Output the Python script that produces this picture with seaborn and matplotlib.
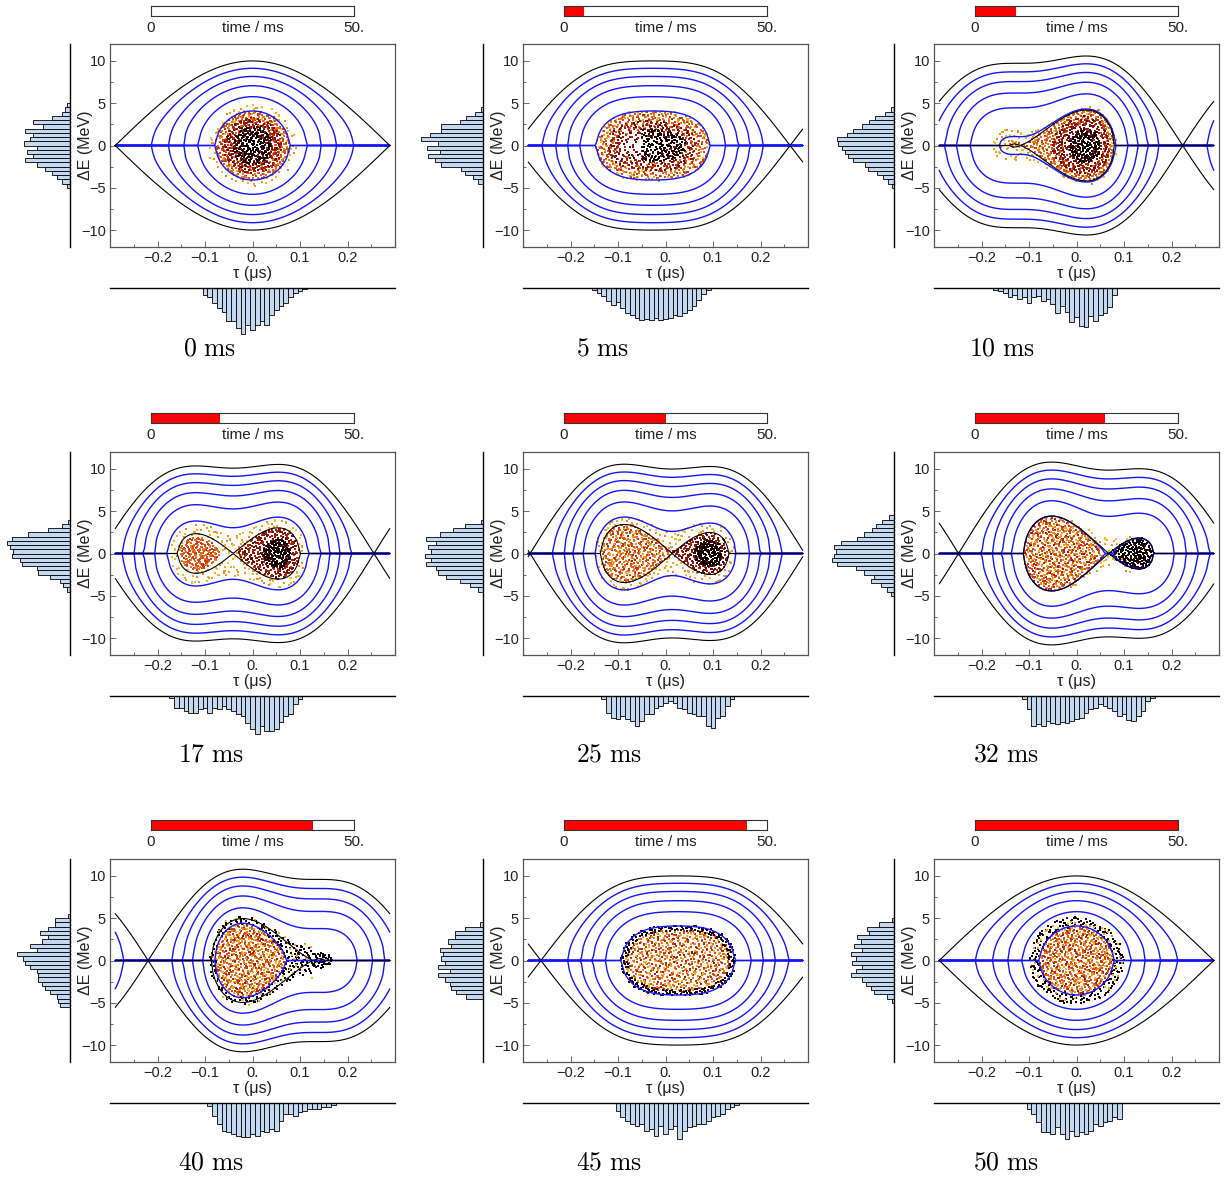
import numpy as np
import pandas as pd
import matplotlib
matplotlib.use("Agg")
import matplotlib.pyplot as plt
import seaborn as sns
from matplotlib.colors import LinearSegmentedColormap

sns.set_theme(style="white")
plt.rcParams["font.family"] = ["Liberation Sans", "DejaVu Sans"]
plt.rcParams["mathtext.fontset"] = "cm"

# ------------------------------------------------------------------ data
snapshot_ms = [0, 5, 10, 17, 25, 32, 40, 45, 50]
cycle_ms = 50

# RF potential well U(tau) = c1(1-cos x) + s1 sin x + c2(1-cos 2x) + s2 sin 2x,
# with x = 2*pi*tau/T_RF (MeV^2, so that dE^2/2 + U is conserved)
T_RF = 0.578
pot_c1 = [25.0, 23.96, 20.8, 24.07, 25.0, 23.70, 20.99, 23.96, 25.0]
pot_s1 = [0.0, 7.15, 13.32, 8.35, 0.0, -7.74, -13.11, -7.15, 0.0]
pot_c2 = [0.0, -4.39, 0.30, -7.83, -11.10, -6.06, 1.74, -4.39, 0.0]
pot_s2 = [0.0, -2.88, -9.84, -7.415, 1.51, 9.85, 10.45, 2.88, 0.0]

# bunch profiles in tau (bin width 0.01 us): centre of the first bin and counts
tau_bin = 0.01
tau_first_centre = [-0.10, -0.15, -0.17, -0.17, -0.13, -0.11, -0.09, -0.10, -0.10]
tau_counts_00 = [7, 9, 15, 20, 24, 33, 33, 40, 46, 37, 42, 37, 33, 37, 27, 22, 18, 15, 9, 5, 3, 1]
tau_counts_05 = [2, 5, 8, 13, 17, 14, 20, 25, 27, 30, 32, 31, 32, 30, 32, 31, 30, 27, 28, 25, 22, 18, 12, 6, 2]
tau_counts_10 = [2, 3, 5, 9, 7, 11, 9, 15, 9, 8, 13, 11, 16, 25, 18, 24, 34, 29, 38, 39, 28, 33, 27, 25, 19, 7]
tau_counts_17 = [2, 12, 12, 15, 17, 17, 13, 12, 17, 12, 13, 10, 13, 15, 18, 20, 27, 33, 38, 30, 35, 35, 33, 26, 20, 18, 8, 3]
tau_counts_25 = [3, 17, 22, 23, 20, 23, 25, 30, 25, 18, 18, 12, 10, 7, 5, 7, 12, 13, 17, 18, 20, 20, 30, 32, 22, 20, 10, 3]
tau_counts_32 = [3, 13, 30, 28, 30, 25, 27, 28, 26, 27, 25, 23, 22, 17, 13, 12, 8, 10, 12, 15, 20, 18, 24, 25, 20, 15, 5, 2]
tau_counts_40 = [3, 13, 21, 28, 29, 31, 33, 34, 34, 31, 33, 28, 29, 26, 28, 18, 11, 11, 13, 9, 8, 6, 6, 6, 4, 4, 2]
tau_counts_45 = [8, 14, 18, 21, 23, 21, 28, 26, 33, 23, 31, 26, 23, 36, 28, 24, 23, 21, 21, 18, 14, 13, 11, 6, 4, 2]
tau_counts_50 = [6, 11, 19, 29, 29, 31, 24, 31, 36, 28, 33, 29, 31, 28, 21, 23, 19, 18, 14, 16]
tau_counts = [tau_counts_00, tau_counts_05, tau_counts_10, tau_counts_17, tau_counts_25,
              tau_counts_32, tau_counts_40, tau_counts_45, tau_counts_50]

# energy profiles (bin width 0.5 MeV): upper edge of the top bin, counts listed top to bottom
de_bin = 0.5
de_top_edge = [5.0, 4.5, 4.5, 4.0, 4.0, 4.5, 5.5, 4.5, 5.0]
de_counts_00 = [3, 5, 8, 18, 37, 27, 45, 37, 40, 46, 33, 43, 37, 45, 33, 25, 18, 13, 8, 3]
de_counts_05 = [2, 8, 17, 23, 42, 42, 53, 62, 45, 56, 43, 55, 48, 42, 22, 18, 10, 5]
de_counts_10 = [3, 9, 19, 25, 32, 41, 47, 57, 56, 52, 49, 46, 41, 29, 26, 17, 11, 6, 2]
de_counts_17 = [2, 8, 22, 42, 58, 63, 60, 57, 58, 50, 48, 33, 32, 20, 10, 7, 3]
de_counts_25 = [2, 18, 30, 43, 57, 47, 55, 52, 58, 52, 57, 47, 45, 37, 23, 13, 5]
de_counts_32 = [5, 12, 18, 22, 30, 37, 53, 60, 58, 60, 62, 57, 38, 30, 20, 23, 13, 7, 3]
de_counts_40 = [2, 15, 15, 22, 30, 22, 28, 40, 33, 53, 47, 45, 40, 33, 32, 32, 28, 25, 20, 13, 12, 10]
de_counts_45 = [3, 18, 28, 28, 35, 32, 43, 40, 42, 38, 45, 33, 45, 38, 33, 32, 27, 17]
de_counts_50 = [2, 15, 27, 25, 37, 33, 40, 32, 43, 38, 42, 32, 38, 43, 32, 28, 23, 20, 7, 2]
de_counts = [de_counts_00, de_counts_05, de_counts_10, de_counts_17, de_counts_25,
             de_counts_32, de_counts_40, de_counts_45, de_counts_50]

# macro-particle groups: (basin, amplitude lo/hi in MeV, initial-amplitude shade lo/hi, number[, tau lo, tau hi])
groups_00 = [("all", 3.1, 4.9, .62, .82, 130), ("all", 2.0, 4.1, .38, .62, 360),
             ("all", 1.0, 3.3, .16, .36, 280), ("all", 0.0, 2.2, .00, .08, 170)]
groups_05 = [("all", 3.0, 4.2, .62, .82, 160), ("all", 1.9, 4.0, .38, .62, 360),
             ("all", 0.8, 3.0, .16, .36, 280), ("all", 0.0, 1.9, .00, .08, 150, -0.05, 0.05)]
groups_10 = [("all", 3.6, 4.6, .62, .82, 150), ("all", 2.6, 4.2, .40, .62, 320),
             ("R", 1.0, 3.5, .16, .36, 300), ("R", 0.0, 2.0, .00, .08, 150)]
groups_17 = [("all", 2.9, 4.0, .62, .82, 170), ("L", 0.0, 2.0, .40, .62, 180),
             ("R", 1.0, 3.0, .18, .38, 280), ("R", 0.0, 1.7, .00, .08, 150)]
groups_25 = [("all", 3.4, 4.4, .62, .82, 150), ("L", 0.0, 3.45, .35, .75, 400),
             ("R", 1.0, 2.5, .16, .36, 200), ("R", 0.0, 1.6, .00, .08, 140)]
groups_32 = [("all", 4.3, 4.8, .62, .82, 60, -0.02, 0.12), ("L", 0.0, 4.4, .30, .78, 620),
             ("R", 0.0, 1.85, .00, .10, 200)]
groups_40 = [("L", 0.0, 4.4, .30, .80, 600), ("L", 4.3, 5.2, .00, .10, 200),
             ("R", 0.0, 0.9, .00, .10, 40), ("L", 4.0, 5.4, .70, .82, 50)]
groups_45 = [("all", 0.0, 3.7, .30, .80, 620), ("all", 3.5, 4.2, .00, .12, 240)]
groups_50 = [("all", 0.0, 4.1, .30, .80, 620), ("all", 4.0, 5.2, .00, .12, 220),
             ("all", 4.0, 5.0, .65, .80, 50)]
particle_groups = [groups_00, groups_05, groups_10, groups_17, groups_25,
                   groups_32, groups_40, groups_45, groups_50]

# ---------------------------------------------------------------- styling
W, H = 1225, 1181
COL_LEFT = [110, 523, 934]
ROW_TOP = [44, 452, 859]
MAIN_W, MAIN_H = 285, 203
BAR_TOP = [6, 413, 820]
LABEL_Y = [348, 755, 1162]
LABEL_X = [183, 576, 969, 178, 576, 973, 178, 576, 973]

BLUE = "#1414ff"
HIST_FACE = "#c2d9f1"
TEXT = "#222222"
FRAME = "#555555"
particle_cmap = LinearSegmentedColormap.from_list(
    "particles",
    [(0.0, "#000000"), (0.1, "#2a0805"), (0.2, "#6e0c08"), (0.35, "#b8220c"),
     (0.5, "#e2541a"), (0.65, "#f08a22"), (0.8, "#f4bc1e"), (1.0, "#f8e04a")])

OMEGA = 2 * np.pi / T_RF
tau_fine = np.linspace(-T_RF / 2, T_RF / 2, 4001)
tau_plot = np.linspace(-T_RF / 2, T_RF / 2, 161)


def rf_potential(tau, k):
    x = OMEGA * np.asarray(tau)
    return (pot_c1[k] * (1 - np.cos(x)) + pot_s1[k] * np.sin(x)
            + pot_c2[k] * (1 - np.cos(2 * x)) + pot_s2[k] * np.sin(2 * x))


def halton(n, base):
    idx = np.arange(1, n + 1)
    out = np.zeros(n)
    f = 1.0
    while np.any(idx > 0):
        f /= base
        out += f * (idx % base)
        idx //= base
    return out


N_CAND = 90000
seq_a, seq_b, seq_c = halton(N_CAND, 2), halton(N_CAND, 3), halton(N_CAND, 5)

fig = plt.figure(figsize=(W / 100, H / 100), dpi=100)


def px_axes(left, top, width, height):
    return fig.add_axes([left / W, 1 - (top + height) / H, width / W, height / H])


for k in range(9):
    r, c = divmod(k, 3)
    left, top = COL_LEFT[c], ROW_TOP[r]

    # ---- phase-space panel
    ax = px_axes(left, top, MAIN_W, MAIN_H)
    U_f = rf_potential(tau_fine, k)
    u_top, u_bot = U_f.max(), U_f.min()
    peaks = np.flatnonzero((U_f[1:-1] > U_f[:-2]) & (U_f[1:-1] >= U_f[2:])) + 1
    inner = [i for i in peaks if U_f[i] < u_top - 1e-6]
    tau_s = tau_fine[inner[0]] if inner else None

    # particles
    ptau, pde, pshade = [], [], []
    for j, grp in enumerate(particle_groups[k]):
        side, a_lo, a_hi, v_lo, v_hi, n = grp[:6]
        t_lo, t_hi = (grp[6], grp[7]) if len(grp) > 6 else (-1.0, 1.0)
        g = 7 * j + 3 * k + 1
        tc = -T_RF / 2 + T_RF * ((seq_a + g * 0.6180339887) % 1)
        ec = -6.5 + 13.0 * ((seq_b + g * 0.7548776662) % 1)
        vc = (seq_c + g * 0.5698402910) % 1
        sel = (tc >= t_lo) & (tc <= t_hi)
        if side == "L" and tau_s is not None:
            sel &= tc < tau_s
            u_ref = U_f[tau_fine < tau_s].min()
        elif side == "R" and tau_s is not None:
            sel &= tc > tau_s
            u_ref = U_f[tau_fine > tau_s].min()
        else:
            u_ref = u_bot
        ham = 0.5 * ec ** 2 + rf_potential(tc, k)
        amp = np.sqrt(2 * np.clip(ham - u_ref, 0, None))
        sel &= (amp >= a_lo) & (amp < a_hi)
        idx = np.flatnonzero(sel)[:n]
        ptau.append(tc[idx])
        pde.append(ec[idx])
        pshade.append(v_lo + (v_hi - v_lo) * vc[idx])
    cloud = pd.DataFrame({"tau": np.concatenate(ptau), "dE": np.concatenate(pde),
                          "shade": np.concatenate(pshade)})
    sns.scatterplot(data=cloud, x="tau", y="dE", hue="shade", palette=particle_cmap,
                    hue_norm=(0, 1), s=2.2, marker="s", linewidth=0, legend=False,
                    ax=ax, zorder=2)

    # trajectories: curves dE(tau) = +-sqrt(2(h - U)) for equally spaced h, then separatrices
    U_p = rf_potential(tau_plot, k)
    for j in range(1, 6):
        lev = u_bot + (u_top - u_bot) * j / 6
        de = np.sqrt(2 * np.clip(lev - U_p, 0, None))
        ax.plot(tau_plot, de, color=BLUE, lw=1.0, zorder=3)
        ax.plot(tau_plot, -de, color=BLUE, lw=1.0, zorder=3)
    for lev in [u_top] + [U_f[i] for i in inner]:
        de = np.sqrt(2 * np.clip(lev - U_p, 0, None))
        ax.plot(tau_plot, de, color="black", lw=0.8, zorder=4)
        ax.plot(tau_plot, -de, color="black", lw=0.8, zorder=4)

    ax.set_xlim(-0.3, 0.3)
    ax.set_ylim(-12, 12)
    ax.set_xticks([-0.2, -0.1, 0.0, 0.1, 0.2])
    ax.set_xticklabels(["\u22120.2", "\u22120.1", "0.", "0.1", "0.2"])
    ax.set_xticks([-0.25, -0.15, -0.05, 0.05, 0.15, 0.25], minor=True)
    ax.set_yticks([-10, -5, 0, 5, 10])
    ax.set_yticklabels(["\u221210", "\u22125", "0", "5", "10"])
    ax.set_yticks([-7.5, -2.5, 2.5, 7.5], minor=True)
    ax.tick_params(which="both", direction="in", colors=FRAME, labelcolor=TEXT,
                   labelsize=10.5, pad=3, width=0.6, bottom=True, left=True,
                   top=False, right=False)
    ax.tick_params(which="major", length=4)
    ax.tick_params(which="minor", length=2)
    for sp in ax.spines.values():
        sp.set_color(FRAME)
        sp.set_linewidth(0.9)
    ax.set_xlabel("\u03c4 (\u03bcs)", fontsize=11.5, color=TEXT)
    ax.set_ylabel("\u0394E (MeV)", fontsize=11.5, color=TEXT)
    ax.xaxis.set_label_coords(0.5, -0.095)
    ax.yaxis.set_label_coords(-0.058, 0.5)

    # ---- energy profile (left)
    axl = px_axes(left - 40 - 66, top, 66, MAIN_H)
    dc = np.array(de_counts[k], dtype=float)
    lo_edge = de_top_edge[k] - de_bin * len(dc)
    eprof = pd.DataFrame({"dE": de_top_edge[k] - de_bin / 2 - de_bin * np.arange(len(dc)),
                          "n": dc})
    sns.histplot(data=eprof, y="dE", weights="n", binwidth=de_bin,
                 binrange=(lo_edge, de_top_edge[k]), ax=axl, color=HIST_FACE,
                 edgecolor="black", linewidth=0.6, alpha=1.0)
    axl.set_xlim(66, 0)
    axl.set_ylim(-12, 12)
    axl.set_xticks([])
    axl.set_yticks([])
    axl.set_xlabel("")
    axl.set_ylabel("")
    for name, sp in axl.spines.items():
        sp.set_visible(name == "right")
    axl.spines["right"].set_color("black")
    axl.spines["right"].set_linewidth(1.0)

    # ---- time profile (below)
    axb = px_axes(left, top + MAIN_H + 41, MAIN_W, 50)
    tcounts = np.array(tau_counts[k], dtype=float)
    t_lo_edge = tau_first_centre[k] - tau_bin / 2
    tprof = pd.DataFrame({"tau": tau_first_centre[k] + tau_bin * np.arange(len(tcounts)),
                          "n": tcounts})
    sns.histplot(data=tprof, x="tau", weights="n", binwidth=tau_bin,
                 binrange=(t_lo_edge, t_lo_edge + tau_bin * len(tcounts)), ax=axb,
                 color=HIST_FACE, edgecolor="black", linewidth=0.6, alpha=1.0)
    axb.set_xlim(-0.3, 0.3)
    axb.set_ylim(50, 0)
    axb.set_xticks([])
    axb.set_yticks([])
    axb.set_xlabel("")
    axb.set_ylabel("")
    for name, sp in axb.spines.items():
        sp.set_visible(name == "top")
    axb.spines["top"].set_color("black")
    axb.spines["top"].set_linewidth(1.0)

    # ---- elapsed-time bar
    axt = px_axes(left + 41, BAR_TOP[r], 203, 10)
    axt.barh([0.5], [snapshot_ms[k]], height=1.0, left=0, color="#ff0000", edgecolor="none")
    axt.set_xlim(0, cycle_ms)
    axt.set_ylim(0, 1)
    axt.set_xticks([])
    axt.set_yticks([])
    for sp in axt.spines.values():
        sp.set_color("#333333")
        sp.set_linewidth(0.8)
    tr = axt.get_xaxis_transform()
    axt.text(0, -1.15, "0", transform=tr, ha="center", va="center", fontsize=11, color=TEXT)
    axt.text(cycle_ms / 2, -1.15, "time / ms", transform=tr, ha="center", va="center",
             fontsize=11, color=TEXT)
    axt.text(cycle_ms, -1.15, "%d." % cycle_ms, transform=tr, ha="center", va="center",
             fontsize=11, color=TEXT)

    # ---- snapshot label
    fig.text(LABEL_X[k] / W, 1 - LABEL_Y[r] / H, r"$\mathrm{%d\ ms}$" % snapshot_ms[k],
             ha="left", va="center", fontsize=18.5, color="black")

fig.savefig("out.png", dpi=100)
